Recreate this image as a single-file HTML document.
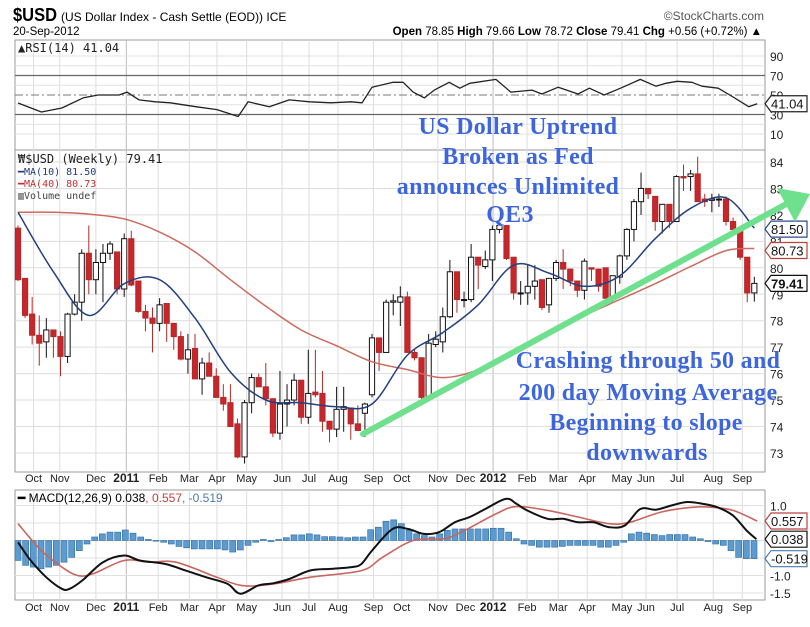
<!DOCTYPE html>
<html><head><meta charset="utf-8"><style>
body{margin:0;background:#fff;}
svg{display:block;font-family:"Liberation Sans",sans-serif;}
.ann{font-family:"Liberation Serif",serif;font-weight:bold;font-size:24px;letter-spacing:0.3px;fill:#3e66dc;stroke:#fff;stroke-width:0.6;paint-order:stroke;text-anchor:middle;}
</style></head><body>
<svg id="c" width="810" height="627" viewBox="0 0 810 627">
<g id="hdr">
<text x="13" y="21" font-size="18" font-weight="bold" textLength="44" lengthAdjust="spacingAndGlyphs">$USD</text>
<text x="61" y="21" font-size="12">(US Dollar Index - Cash Settle (EOD)) ICE</text>
<text x="13" y="35" font-size="11.5">20-Sep-2012</text>
<text x="762" y="35" font-size="11.5" text-anchor="end"><tspan font-weight="bold">Open</tspan> 78.85 <tspan font-weight="bold">High</tspan> 79.66 <tspan font-weight="bold">Low</tspan> 78.72 <tspan font-weight="bold">Close</tspan> 79.41 <tspan font-weight="bold">Chg</tspan> +0.56 (+0.72%) ▲</text>
<text x="764" y="20" font-size="12" fill="#555" text-anchor="end">©StockCharts.com</text>
</g>
<g id="grid"></g>
<g id="marks"></g>
<g id="anns"></g>
</svg>
<script>
// ---- data ----
const opens=[81.5,79.6,78.25,77.45,77.2,77.65,77.4,76.65,78.25,78.7,80.55,79.55,80.2,80.55,80.6,79.2,81.1,79.5,78.35,78.1,77.9,78.65,77.9,77.4,76.55,76.95,75.8,76.4,75.9,75.1,74.9,74.1,72.85,74.9,75.85,75.5,75.05,73.75,74.85,75.0,75.75,74.35,75.3,75.25,74.2,73.9,74.65,74.7,74.1,74.5,75.2,77.35,76.8,78.7,78.7,78.9,76.8,76.6,75.1,77.1,77.2,78.15,79.85,78.8,78.8,80.4,80.05,80.3,81.45,81.6,80.4,79.05,79.05,79.3,79.55,78.6,79.6,80.2,79.95,79.5,79.15,80.0,79.95,80.0,78.9,79.65,80.45,81.45,82.5,83.0,82.7,81.75,82.4,81.75,83.45,83.45,83.55,82.6,82.55,82.6,82.6,81.75,81.4,80.4,79.05];
const closes=[79.55,78.2,77.45,77.15,77.65,77.4,76.65,78.25,78.7,80.55,79.55,80.2,80.55,80.9,79.2,81.1,79.35,78.35,78.1,77.9,78.6,77.9,77.4,76.55,76.9,75.8,76.4,75.9,75.1,74.85,74.0,72.85,74.9,75.85,75.5,75.05,73.75,74.85,75.0,75.75,74.35,75.25,75.2,74.2,73.9,74.65,74.75,74.1,73.85,74.85,77.35,76.8,78.7,78.75,78.9,76.8,76.6,75.1,77.15,77.3,78.15,79.85,78.8,78.8,80.4,80.1,80.3,81.45,81.6,80.35,79.05,79.05,79.3,79.5,78.5,79.6,80.2,79.95,79.5,79.15,80.25,79.95,79.3,78.85,79.7,80.45,81.45,82.5,83.0,82.8,81.75,82.4,81.75,83.45,83.4,83.55,82.5,82.5,82.6,82.6,81.75,81.45,80.4,79.05,79.41];
const highs=[81.6,79.6,78.9,78.2,78.1,77.65,77.6,78.3,79.0,80.7,81.6,80.7,80.9,81.0,80.6,81.3,81.4,79.5,78.6,78.5,78.85,78.65,77.9,77.6,77.5,77.5,76.6,76.8,76.2,75.6,75.6,74.3,75.0,76.0,76.0,76.4,75.05,76.1,75.6,76.0,75.75,76.9,76.9,76.1,74.2,75.5,75.5,74.7,74.8,74.9,77.5,77.35,78.8,79.0,79.3,79.1,76.9,76.6,77.5,77.6,78.5,80.3,79.85,79.1,80.9,80.4,80.65,81.6,81.75,81.6,80.4,79.5,80.1,80.1,79.55,79.6,80.3,80.7,79.95,79.5,80.35,80.0,79.95,80.0,79.7,80.5,81.5,82.6,83.6,83.0,82.7,82.4,82.4,83.5,83.9,83.7,84.2,82.8,82.8,82.8,82.7,81.9,81.5,80.4,79.66];
const lows=[79.5,78.1,77.1,76.3,76.6,76.6,75.9,76.4,78.2,78.0,79.0,79.0,78.7,80.3,79.0,78.9,79.3,78.3,77.6,76.8,77.6,77.2,76.9,76.5,76.0,75.8,75.2,75.9,75.1,74.6,74.0,72.8,72.6,74.5,75.5,74.8,73.6,73.5,74.0,74.8,74.1,74.1,75.1,73.8,73.4,73.6,73.8,73.5,73.85,73.6,75.1,76.1,77.4,78.2,77.8,76.8,76.5,74.9,75.0,77.0,76.8,78.1,78.3,78.5,78.7,79.2,79.95,79.5,81.3,80.3,78.8,78.6,78.6,78.8,78.4,78.3,79.5,79.2,79.3,78.9,78.8,79.5,79.1,78.8,78.7,79.4,80.3,81.0,82.0,82.6,81.4,81.3,81.5,81.75,82.9,82.9,82.5,82.3,82.1,82.3,81.6,81.3,80.3,78.7,78.72];
const maWeeks=[0,5,10,15,20,25,30,35,40,45,50,55,60,65,70,75,80,85,90,95,100,104];
const ma10=[82.1,79.85,78.2,79.4,79.55,78.1,76.06,75.0,74.9,74.75,74.85,76.7,77.55,78.6,80.1,79.8,79.3,79.7,81.1,82.25,82.65,81.5];
const ma40=[82.1,82.1,82.03,81.85,81.35,80.6,79.55,78.55,77.65,77.05,76.45,76.15,75.85,76.15,76.9,77.55,78.2,78.8,79.4,80.05,80.65,80.73];
const rsiWeeks=[0,3.3,6.2,9.2,11.3,14.3,15.4,17.1,19.4,21.5,25.1,28.1,31.1,32.5,35.5,38.3,41.2,44.2,47.0,48.6,50.0,53.0,54.4,55.8,57.4,58.8,60.9,62.4,63.8,67.5,69.6,72.6,74.0,76.3,79.1,80.7,82.8,85.1,87.9,90.1,91.5,93.1,95.2,96.6,98.9,101.0,103.2,104.4];
const rsiVals=[41.8,32.6,36.7,47,50,50,53,45,43,42,38,35,28,43,38,45,43,42,43,42,58,63,63,53,47,55,63,57,62,66,53,55,51,58,51,57,50,57,66,59,62,64,63,59,57,48,38,41.04];
const histVals=[-0.57,-0.71,-0.76,-0.81,-0.76,-0.71,-0.62,-0.48,-0.29,-0.1,0.1,0.19,0.24,0.24,0.3,0.21,0.1,0.03,-0.02,-0.05,-0.1,-0.17,-0.21,-0.24,-0.24,-0.24,-0.24,-0.27,-0.33,-0.27,-0.14,-0.05,0.03,-0.03,0.03,0.08,0.16,0.16,0.19,0.16,0.11,0.11,0.1,0.08,0.1,0.1,0.31,0.38,0.55,0.59,0.48,0.29,0.19,0.14,0.1,0.19,0.29,0.33,0.33,0.33,0.33,0.33,0.35,0.35,0.24,0.05,-0.1,-0.14,-0.19,-0.19,-0.19,-0.17,-0.14,-0.14,-0.14,-0.14,-0.19,-0.19,-0.14,-0.05,0.19,0.24,0.21,0.17,0.14,0.17,0.17,0.17,0.1,0.05,-0.03,-0.1,-0.14,-0.29,-0.48,-0.52,-0.519];
const macdWeeks=[0,1.8,4.0,6.2,7.3,9.1,12.0,15.0,17.2,20.8,23.7,26.6,29.6,31.4,33.9,36.1,38.3,41.2,44.1,47.1,48.5,50,52.9,55.1,57.3,59.5,61.7,63.8,66,68.9,70.4,71.9,74.8,77,79.1,81.3,83.5,85.7,87.9,90.1,92.3,94.5,96.7,98.8,101,102.9,104.3];
const macdVals=[-0.05,-0.57,-1.05,-1.38,-1.38,-1.14,-0.62,-0.43,-0.57,-0.67,-0.86,-1.05,-1.24,-1.52,-1.29,-1.22,-1.1,-0.86,-0.81,-0.76,-0.67,-0.29,0.33,0.33,0.19,0.24,0.52,0.67,0.9,1.19,1.05,0.86,0.62,0.62,0.52,0.52,0.38,0.43,0.9,0.88,1.0,1.1,1.05,0.95,0.71,0.29,0.038];
const sigWeeks=[0,3.3,6.2,8.4,10.6,15.0,18.6,22.3,28.1,31.7,36.1,41.2,48.5,51.5,55.8,60.2,63.1,67.5,70.4,74.8,79.1,83.5,86.4,90.8,95.2,98.1,101,104.4];
const sigVals=[0.48,-0.29,-0.76,-1.0,-0.95,-0.57,-0.62,-0.62,-1.05,-1.29,-1.24,-1.05,-0.86,-0.48,0.0,0.05,0.29,0.76,0.97,0.86,0.67,0.48,0.52,0.81,0.95,0.95,0.86,0.557];
const priceTicks=[73,74,75,76,77,78,79,80,81,82,83,84];
const rsiTicks=[10,30,50,70,90];
const macdTicks=[1.0,-1.0,-1.5];
const monthLabels=["Oct","Nov","Dec","2011","Feb","Mar","Apr","May","Jun","Jul","Aug","Sep","Oct","Nov","Dec","2012","Feb","Mar","Apr","May","Jun","Jul","Aug","Sep"];
const monthWeeks=[2.2,5.9,11.0,15.3,19.8,24.2,28.1,32.3,37.3,41.1,45.2,50.2,54.2,59.3,63.2,67.1,71.9,76.3,80.4,85.3,88.7,93.1,98.2,102.3];

// ---- scales ----
const NS="http://www.w3.org/2000/svg";
const L=15,R=765;
const xw=w=>18+w*7.08;
const py=p=>162+(84-p)*26.45;
const ry=r=>95-(r-50)*0.975;
const my=v=>540.5-v*35;
function mk(tag,attrs,parent){const e=document.createElementNS(NS,tag);for(const k in attrs)e.setAttribute(k,attrs[k]);(parent||document.getElementById('marks')).appendChild(e);return e;}
const G=document.getElementById('grid');
const panels=[[40,150,'rsi-panel'],[150,472,'price-panel'],[490,600,'macd-panel']];
panels.forEach(p=>{const r=mk('rect',{x:L,y:p[0],width:R-L,height:p[1]-p[0],fill:'#fff',stroke:'#999','stroke-width':1},G);

});
monthWeeks.forEach((w,i)=>{
 panels.forEach(p=>{const l=mk('line',{x1:xw(w),x2:xw(w),y1:p[0],y2:p[1],stroke:i==3||i==15?'#bbb':'#ddd'},G);
 
 });
 [482,611].forEach(y=>{const t=mk('text',{x:xw(w),y:y,'font-size':i==3||i==15?12:11,'font-weight':i==3||i==15?'bold':'normal','text-anchor':'middle',fill:'#222'},G);t.textContent=monthLabels[i];
 
 });
});
priceTicks.forEach(p=>{const l=mk('line',{x1:L,x2:R,y1:py(p),y2:py(p),stroke:'#ddd'},G);
 
 
 const t=mk('text',{x:770,y:py(p)+5,'font-size':12,fill:'#222'},G);t.textContent=p;
 
 });
for(let r=10;r<=90;r+=10){const l=mk('line',{x1:L,x2:R,y1:ry(r),y2:ry(r),stroke:r==30||r==70?'#666':(r==50?'#777':'#e2e2e2'),'stroke-width':r==30||r==70?1.2:1,'stroke-dasharray':r==50?'8,3,2,3':'none'},G);
 
 }
rsiTicks.forEach(r=>{const t=mk('text',{x:770,y:ry(r)+5,'font-size':12,fill:'#222'},G);t.textContent=r;
 
 });
[1.0,0.5,0,-0.5,-1.0,-1.5].forEach(v=>{const l=mk('line',{x1:L,x2:R,y1:my(v),y2:my(v),stroke:'#e0e0e0'},G);
 
 });
macdTicks.forEach(v=>{const t=mk('text',{x:770,y:my(v)+5,'font-size':12,fill:'#222'},G);t.textContent=v.toFixed(1);
 
 });

function leg(x,y,txt,fill,name,size){const t=mk('text',{x:x,y:y,'font-size':size||12,fill:fill,'font-family':'"DejaVu Sans Mono","Liberation Mono",monospace'},G);t.textContent=txt;
 
 }
leg(18,52,'▲RSI(14) 41.04','#222','rsi-legend',12);
leg(18,163,'₩$USD (Weekly) 79.41','#222','price-legend',12);
leg(18,175,'━MA(10) 81.50','#1f3a7a','ma10-legend',10);
leg(18,187,'━MA(40) 80.73','#c03030','ma40-legend',10);
leg(18,199,'▥Volume undef','#444','volume-legend',10);
const ml=mk('text',{x:18,y:502,'font-size':12,'font-family':'"Liberation Sans",sans-serif'},G);
ml.innerHTML='<tspan font-weight="bold">━</tspan> MACD(12,26,9) 0.038<tspan fill="#c04040">, 0.557</tspan><tspan fill="#4a7ab0">, -0.519</tspan>';



// smooth path helper (Catmull-Rom)
function smoothPath(pts){let d='M'+pts[0][0].toFixed(1)+','+pts[0][1].toFixed(1);
 for(let i=0;i<pts.length-1;i++){const p0=pts[i-1]||pts[i],p1=pts[i],p2=pts[i+1],p3=pts[i+2]||p2;
  const c1=[p1[0]+(p2[0]-p0[0])/6,p1[1]+(p2[1]-p0[1])/6],c2=[p2[0]-(p3[0]-p1[0])/6,p2[1]-(p3[1]-p1[1])/6];
  d+=' C'+c1.map(v=>v.toFixed(1))+' '+c2.map(v=>v.toFixed(1))+' '+p2.map(v=>v.toFixed(1));}
 return d;}
function curve(ws,vs,yf,stroke,sw,name){const p=mk('path',{d:smoothPath(ws.map((w,i)=>[xw(w),yf(vs[i])])),fill:'none',stroke:stroke,'stroke-width':sw});
 
 }
function poly(ws,vs,yf,stroke,sw,name){const pts=ws.map((w,i)=>xw(w).toFixed(1)+','+yf(vs[i]).toFixed(1)).join(' ');
 const p=mk('polyline',{points:pts,fill:'none',stroke:stroke,'stroke-width':sw,'stroke-linejoin':'round'});
 
 }
poly(rsiWeeks,rsiVals,ry,'#222',1.3,'rsi-line');
const hstep=(754-18)/(histVals.length-1);
histVals.forEach((v,i)=>{const x=18+i*hstep;const y0=my(0),y1=my(v);
 const b=mk('rect',{x:x-3,y:Math.min(y0,y1),width:6,height:Math.max(0.5,Math.abs(y1-y0)),fill:'#5b9bd0',stroke:'#2f6a9e','stroke-width':0.6});
 
 });
curve(sigWeeks,sigVals,my,'#c9655e',1.6,'macd-signal-line');
curve(macdWeeks,macdVals,my,'#111',2,'macd-line');
closes.forEach((c,i)=>{const o=opens[i],x=xw(i);const up=c>=o;
 const w=mk('line',{x1:x,x2:x,y1:py(highs[i]),y2:py(lows[i]),stroke:up?'#111':'#b02a2a','stroke-width':1});
 
 
 const top=py(Math.max(o,c)),bot=py(Math.min(o,c));
 const b=mk('rect',{x:x-2.6,y:top,width:5.2,height:Math.max(1,bot-top),fill:up?'#fff':'#c8262a',stroke:up?'#111':'#b02a2a','stroke-width':1});
 
 });
curve(maWeeks,ma40,py,'#cc6a5e',1.5,'ma40-line');
curve(maWeeks,ma10,py,'#23407f',1.5,'ma10-line');

function tag(y,txt,col,name,bold){const g=mk('g',{});
 
 
 mk('path',{d:`M765,${y} l6,-8 h36 v16 h-36 z`,fill:'#fff',stroke:col,'stroke-width':1.2},g);
 const t=mk('text',{x:771,y:y+5,'font-size':13,'font-weight':bold?'bold':'normal',fill:'#111'},g);t.textContent=txt;}
tag(ry(41.04),'41.04','#222','rsi-value-tag');
tag(py(81.5)+1,'81.50','#2a4a8a','ma10-value-tag');
tag(py(80.73)+2,'80.73','#c04040','ma40-value-tag');
tag(py(79.41),'79.41','#111','close-value-tag',true);
tag(my(0.557),'0.557','#c04040','signal-value-tag');
tag(my(0.038),'0.038','#111','macd-value-tag');
tag(my(-0.519),'-0.519','#4a7ab0','histogram-value-tag');

const A=document.getElementById('anns');
const tl=mk('line',{x1:363,y1:434,x2:790,y2:202,stroke:'#6fe08e','stroke-width':6,'stroke-linecap':'round'},A);


const ah=mk('polygon',{points:'810,194 777,188 795,222',fill:'#6fe08e'},A);


[['US Dollar Uptrend',518,134],['Broken as Fed',518,164],['announces Unlimited',508,194],['QE3',510,222],
 ['Crashing through 50 and',648,368],['200 day Moving Average',648,400],['Beginning to slope',646,430],['downwards',647,460]].forEach(a=>{
 const t=mk('text',{x:a[1],y:a[2],class:'ann'},A);t.textContent=a[0];
 
 });
</script>
</body></html>
